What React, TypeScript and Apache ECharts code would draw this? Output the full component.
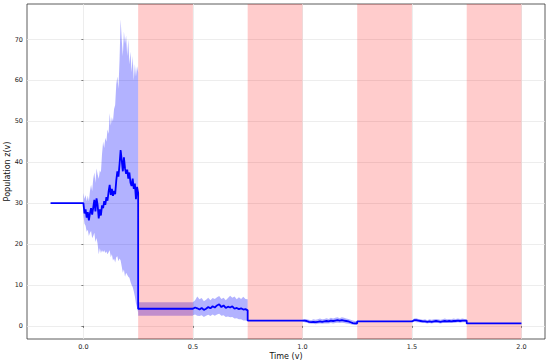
import React, { useEffect, useRef } from "react";
import * as echarts from "echarts";

// ---- data ----
const preT = [-0.15, 0.0];
const preY = [30, 30];

const segAT = [0.000,0.005,0.010,0.015,0.020,0.025,0.030,0.035,0.040,0.045,0.050,0.055,0.060,0.065,0.070,0.075,0.080,0.085,0.090,0.095,0.100,0.105,0.110,0.115,0.120,0.125,0.130,0.135,0.140,0.145,0.150,0.155,0.160,0.165,0.170,0.175,0.180,0.185,0.190,0.195,0.200,0.205,0.210,0.215,0.220,0.225,0.230,0.235,0.240,0.245,0.250];
const segAY = [30.0,27.5,28.5,26.5,27.8,25.8,27.5,28.8,27.2,29.0,30.8,28.0,31.2,29.5,26.3,28.5,27.0,29.5,28.8,30.5,29.6,31.5,30.6,32.8,34.5,32.0,33.5,31.8,33.0,32.2,35.5,37.8,36.5,39.5,43.0,40.5,37.8,41.2,38.5,37.2,38.2,36.0,37.5,35.0,34.2,36.0,33.5,34.8,31.0,34.0,32.5];
const segAHi = [32.5,31.0,32.0,30.5,31.8,30.5,33.0,34.5,33.0,36.0,37.5,35.0,38.5,37.0,36.0,38.0,37.5,42.0,45.0,43.5,46.0,45.0,48.0,47.0,52.0,49.0,51.0,50.0,53.0,54.0,59.0,61.0,58.0,65.0,75.0,70.0,66.0,72.0,69.0,71.0,66.0,70.0,64.0,67.0,62.0,66.0,60.0,64.0,61.0,63.5,62.0];
const segALo = [27.0,25.0,24.5,23.0,23.5,22.0,22.8,23.2,21.5,22.0,22.8,20.5,21.5,20.0,17.5,19.0,17.8,18.5,18.0,18.5,17.8,18.2,17.5,18.0,18.5,16.8,17.5,16.0,16.5,15.5,16.8,17.0,15.8,16.5,16.0,14.5,13.0,13.8,12.0,13.0,12.5,12.0,11.8,10.8,10.0,9.5,8.5,7.2,5.5,4.5,3.2];

const flatBT = [0.25, 0.5];
const flatBY = [4.2, 4.2];
const flatBLo = [2.5, 2.5];
const flatBHi = [5.8, 5.8];

const segCT = [0.50,0.51,0.52,0.53,0.54,0.55,0.56,0.57,0.58,0.59,0.60,0.61,0.62,0.63,0.64,0.65,0.66,0.67,0.68,0.69,0.70,0.71,0.72,0.73,0.74,0.75];
const segCY = [4.2,4.5,4.3,4.0,4.4,3.9,4.2,4.6,4.3,4.8,4.5,5.0,5.3,4.6,5.0,4.4,4.7,4.5,4.8,4.2,4.4,4.1,4.3,4.0,4.1,3.8];
const segCHi = [5.8,6.3,7.2,6.5,6.8,6.0,6.4,6.9,6.3,6.8,6.6,7.0,7.3,6.6,6.9,6.3,6.8,7.4,6.9,7.2,6.5,7.0,6.6,7.1,6.6,6.5];
const segCLo = [2.6,2.8,2.5,2.4,2.6,2.2,2.5,2.7,2.4,2.8,2.5,2.8,3.0,2.5,2.6,2.2,2.3,2.1,2.2,1.8,1.9,1.6,1.6,1.3,1.3,1.2];

const flatDT = [0.75, 1.0];
const flatDY = [1.3, 1.3];

const segET = [1.00,1.01,1.02,1.03,1.04,1.05,1.06,1.07,1.08,1.09,1.10,1.11,1.12,1.13,1.14,1.15,1.16,1.17,1.18,1.19,1.20,1.21,1.22,1.23,1.24,1.25];
const segEY = [1.3,1.3,1.2,1.0,0.9,1.0,0.9,1.0,1.1,1.0,1.1,1.2,1.1,1.3,1.2,1.3,1.4,1.3,1.4,1.3,1.2,1.1,0.9,0.7,0.6,0.6];
const segEHi = [1.5,1.7,1.6,1.5,1.4,1.6,1.5,1.6,1.8,1.6,1.7,1.9,1.7,2.0,1.8,2.0,2.1,1.9,2.1,2.0,1.8,1.7,1.5,1.3,1.2,1.1];
const segELo = [1.1,0.9,0.8,0.6,0.5,0.5,0.4,0.5,0.6,0.5,0.6,0.6,0.6,0.7,0.6,0.7,0.8,0.7,0.8,0.7,0.6,0.5,0.4,0.3,0.2,0.2];

const flatFT = [1.25, 1.5];
const flatFY = [1.1, 1.1];

const segGT = [1.50,1.51,1.52,1.53,1.54,1.55,1.56,1.57,1.58,1.59,1.60,1.61,1.62,1.63,1.64,1.65,1.66,1.67,1.68,1.69,1.70,1.71,1.72,1.73,1.74,1.75];
const segGY = [1.1,1.4,1.4,1.3,1.2,1.1,1.1,1.0,1.1,1.0,1.1,1.2,1.1,1.0,1.1,1.2,1.1,1.2,1.1,1.2,1.2,1.3,1.2,1.3,1.3,1.3];
const segGHi = [1.3,1.8,1.9,1.7,1.6,1.5,1.6,1.4,1.6,1.5,1.6,1.7,1.6,1.5,1.6,1.8,1.6,1.7,1.6,1.8,1.7,1.8,1.7,1.8,1.7,1.6];
const segGLo = [0.9,1.0,0.9,0.9,0.8,0.7,0.7,0.6,0.7,0.6,0.7,0.8,0.7,0.6,0.7,0.7,0.7,0.8,0.7,0.7,0.8,0.9,0.8,0.9,0.9,1.0];

const flatHT = [1.75, 2.0];
const flatHY = [0.6, 0.6];

const spanStarts = [0.25, 0.75, 1.25, 1.75];
const spanEnds = [0.5, 1.0, 1.5, 2.0];

const xTicks = [0, 0.5, 1.0, 1.5, 2.0];
const yTicks = [0, 10, 20, 30, 40, 50, 60, 70];

const xMin = -0.2575;
const xMax = 2.1075;
const yMin = -3.2;
const yMax = 78.7;

const lineSegs: [number[], number[]][] = [
  [preT, preY], [segAT, segAY], [flatBT, flatBY], [segCT, segCY], [flatDT, flatDY],
  [segET, segEY], [flatFT, flatFY], [segGT, segGY], [flatHT, flatHY],
];
const bandSegs: [number[], number[], number[]][] = [
  [segAT, segALo, segAHi], [flatBT, flatBLo, flatBHi], [segCT, segCLo, segCHi],
  [segET, segELo, segEHi], [segGT, segGLo, segGHi],
];

export default function App() {
  const ref = useRef<HTMLDivElement>(null);
  useEffect(() => {
    if (!ref.current) return;
    const chart = echarts.init(ref.current, null, { renderer: "svg" });
    const lineData: number[][] = [];
    lineSegs.forEach(([t, y]) => t.forEach((tv, i) => lineData.push([tv, y[i]])));
    const font = "DejaVu Sans";
    chart.setOption({
      animation: false,
      grid: { left: 27, right: 5, top: 4, bottom: 24, outerBoundsMode: "none", containLabel: false, show: true, borderColor: "#333", borderWidth: 0.8, backgroundColor: "transparent" },
      xAxis: {
        type: "value", min: xMin, max: xMax,
        name: "Time (v)", nameLocation: "middle", nameGap: 13.5, nameMoveOverlap: false,
        nameTextStyle: { fontFamily: font, fontSize: 8, color: "#111" },
        axisLine: { show: false },
        axisTick: { show: true, length: 2, customValues: xTicks, lineStyle: { color: "#333", width: 0.6 } },
        axisLabel: { customValues: xTicks, fontFamily: font, fontSize: 6.5, color: "#222", margin: 4, formatter: (v: number) => v.toFixed(1) },
        splitLine: { show: true, lineStyle: { color: "#e8e8e8", width: 0.8 } },
      },
      yAxis: {
        type: "value", min: yMin, max: yMax,
        name: "Population z(v)", nameLocation: "middle", nameGap: 16, nameMoveOverlap: false,
        nameTextStyle: { fontFamily: font, fontSize: 8, color: "#111" },
        axisLine: { show: false },
        axisTick: { show: true, length: 2, customValues: yTicks, lineStyle: { color: "#333", width: 0.6 } },
        axisLabel: { customValues: yTicks, fontFamily: font, fontSize: 6.5, color: "#222", margin: 4 },
        splitLine: { show: true, lineStyle: { color: "#e8e8e8", width: 0.8 } },
      },
      series: [
        {
          type: "custom", z: 1, clip: true,
          data: bandSegs.map(([t, lo]) => [t[0], lo[0]]),
          renderItem: (params: any, api: any) => {
            const [t, lo, hi] = bandSegs[params.dataIndex];
            const pts: number[][] = [];
            for (let i = 0; i < t.length; i++) pts.push(api.coord([t[i], hi[i]]));
            for (let i = t.length - 1; i >= 0; i--) pts.push(api.coord([t[i], lo[i]]));
            return { type: "polygon", shape: { points: pts }, style: { fill: "rgba(0,0,255,0.3)", stroke: "none" } };
          },
        },
        {
          type: "custom", z: 2, clip: true,
          data: spanStarts.map((s, i) => [s, spanEnds[i]]),
          renderItem: (params: any, api: any) => {
            const x0 = api.coord([api.value(0), 0])[0];
            const x1 = api.coord([api.value(1), 0])[0];
            const cs = params.coordSys;
            return { type: "rect", shape: { x: x0, y: cs.y, width: x1 - x0, height: cs.height }, style: { fill: "rgba(255,0,0,0.2)", stroke: "none" } };
          },
        },
        {
          type: "line", z: 3, data: lineData, showSymbol: false, symbol: "none",
          lineStyle: { color: "#0000ff", width: 1.8 }, itemStyle: { color: "#0000ff" },
        },
      ],
    });
    return () => chart.dispose();
  }, []);
  return <div ref={ref} style={{ width: 550, height: 363, position: "absolute", left: 0, top: 0 }} />;
}
